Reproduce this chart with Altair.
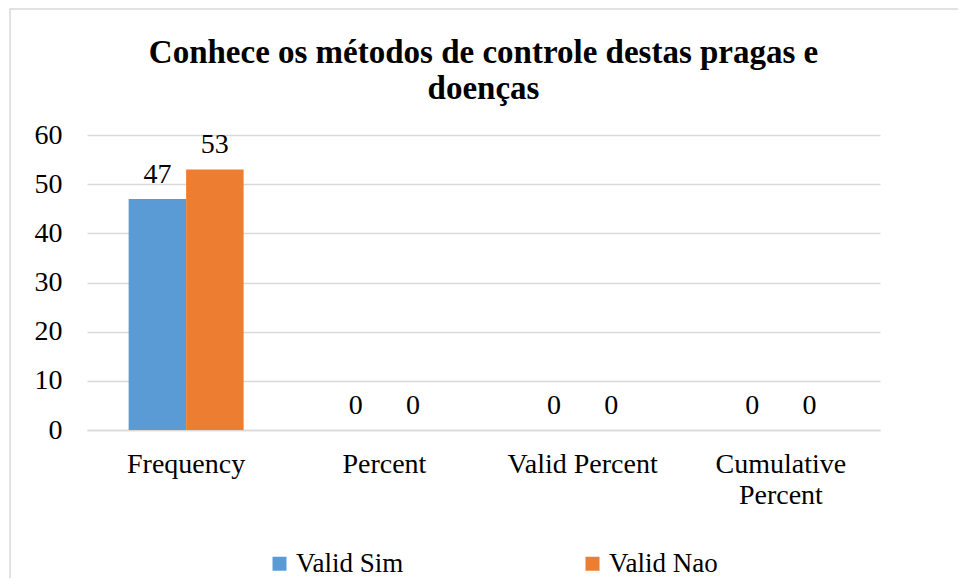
import altair as alt
import pandas as pd

categories = ["Frequency", "Percent", "Valid Percent", "Cumulative Percent"]
series_names = ["Valid Sim", "Valid Nao"]
valid_sim = [47, 0, 0, 0]
valid_nao = [53, 0, 0, 0]
colors = ["#5B9BD5", "#ED7D31"]
title_lines = ["Conhece os métodos de controle destas pragas e", "doenças"]

rows = []
for i, c in enumerate(categories):
    rows.append({"cat": c, "series": series_names[0], "value": valid_sim[i]})
    rows.append({"cat": c, "series": series_names[1], "value": valid_nao[i]})
df = pd.DataFrame(rows)

FONT = "Liberation Serif"

x_enc = alt.X(
    "cat:N",
    sort=categories,
    scale=alt.Scale(paddingInner=0.42, paddingOuter=0.21),
    axis=alt.Axis(
        title=None,
        labelAngle=0,
        labelFontSize=28,
        labelFont=FONT,
        labelColor="#000000",
        labelPadding=20,
        labelLineHeight=31,
        labelExpr="datum.label == 'Cumulative Percent' ? ['Cumulative', 'Percent'] : datum.label",
        ticks=False,
        domainColor="#D9D9D9",
        domainWidth=1.5,
        grid=False,
    ),
)
xoff = alt.XOffset("series:N", sort=series_names, scale=alt.Scale(paddingInner=0, paddingOuter=0))
y_enc = alt.Y(
    "value:Q",
    scale=alt.Scale(domain=[0, 60]),
    axis=alt.Axis(
        title=None,
        values=[0, 10, 20, 30, 40, 50, 60],
        labelFontSize=28,
        labelFont=FONT,
        labelColor="#000000",
        labelPadding=25,
        ticks=False,
        domain=False,
        gridColor="#D9D9D9",
        gridWidth=1.5,
    ),
)
color_enc = alt.Color(
    "series:N",
    sort=series_names,
    scale=alt.Scale(domain=series_names, range=colors),
    legend=alt.Legend(
        title=None,
        orient="none",
        legendX=179,
        legendY=415,
        direction="horizontal",
        columns=2,
        columnPadding=175,
        symbolType="square",
        symbolSize=196,
        symbolStrokeWidth=0,
        labelFontSize=27,
        labelFont=FONT,
        labelColor="#000000",
        labelOffset=3,
    ),
)

border = alt.Chart(pd.DataFrame({"a": [0]})).mark_rect(
    fill="white", fillOpacity=0, stroke="#D9D9D9", strokeWidth=1.5, clip=False
).encode(
    x=alt.value(-77), x2=alt.value(1000), y=alt.value(-126), y2=alt.value(500)
)

bars = alt.Chart(df).mark_bar().encode(x=x_enc, xOffset=xoff, y=y_enc, color=color_enc)

labels = alt.Chart(df).mark_text(
    font=FONT, fontSize=28, color="#000000", baseline="alphabetic", dy=-16
).encode(x=x_enc, xOffset=xoff, y=y_enc, text=alt.Text("value:Q"))

chart = alt.layer(border, bars, labels).properties(
    width=793,
    height=295,
    background="white",
    title=alt.TitleParams(
        text=title_lines,
        font=FONT,
        fontSize=33,
        fontWeight="bold",
        color="#000000",
        anchor="middle",
        lineHeight=36,
        offset=-98,
    ),
    autosize=alt.AutoSizeParams(type="none"),
    padding={"left": 79, "top": 127, "right": 78, "bottom": 148},
).configure_view(stroke=None)

chart.save("out.html", embed_options={"renderer": "svg", "actions": False})
